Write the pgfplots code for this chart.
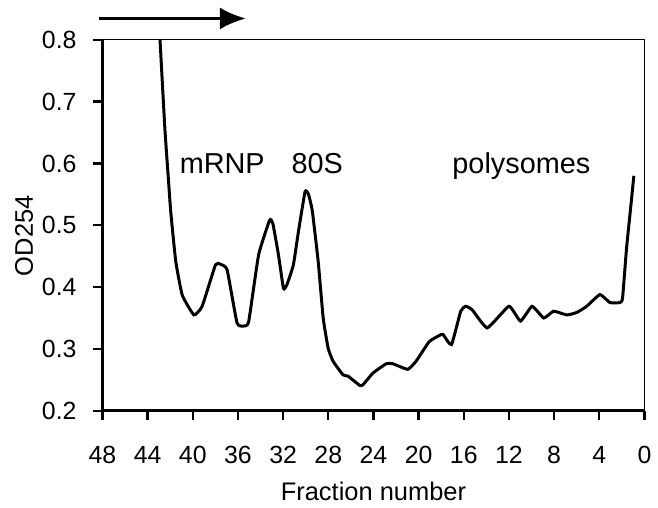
\documentclass[border=0pt]{standalone}
\usepackage{fontspec}
\setmainfont{Liberation Sans}
\usepackage{pgfplots}
\pgfplotsset{compat=1.18}
\usetikzlibrary{arrows.meta}

% OD254 trace
\pgfplotstableread{
x y
42.90 0.800
42.47 0.656
42.16 0.575
41.95 0.522
41.51 0.442
40.93 0.387
39.90 0.355
39.17 0.369
37.99 0.436
37.55 0.437
36.96 0.428
36.08 0.342
35.49 0.337
35.05 0.344
34.17 0.452
33.20 0.508
32.91 0.503
32.41 0.452
31.97 0.398
31.68 0.403
31.09 0.436
30.65 0.489
30.06 0.554
29.77 0.551
29.42 0.524
28.89 0.441
28.45 0.350
28.01 0.301
27.57 0.280
26.69 0.258
26.25 0.256
25.22 0.241
24.93 0.242
24.04 0.261
22.87 0.276
22.28 0.276
20.96 0.267
20.23 0.280
19.05 0.312
18.03 0.323
17.82 0.323
17.09 0.307
16.27 0.361
15.83 0.369
15.24 0.363
13.92 0.334
12.00 0.369
10.98 0.345
9.95 0.369
8.92 0.350
8.04 0.361
6.87 0.355
5.99 0.359
5.11 0.369
3.94 0.388
3.06 0.375
2.18 0.375
1.94 0.382
1.59 0.462
1.23 0.527
0.94 0.580
}\trace

\begin{document}
\begin{tikzpicture}
\begin{axis}[
    scale only axis,
    width=272.5pt, height=186.5pt,
    x dir=reverse,
    xmin=0, xmax=48,
    ymin=0.2, ymax=0.8,
    xtick={0,4,...,48},
    ytick={0.2,0.3,...,0.8},
    y tick label style={/pgf/number format/fixed, /pgf/number format/fixed zerofill,
        /pgf/number format/precision=1, xshift=-5pt},
    /pgf/number format/assume math mode=true,
    tick align=outside,
    tick pos=left,
    major tick length=4.5pt,
    every tick/.style={black, line width=1.2pt},
    axis line style={line width=0.7pt},
    tick label style={font=\fontsize{12.5}{15}\selectfont},
    x tick label style={yshift=-10pt},
    label style={font=\fontsize{12.8}{15}\selectfont},
    xlabel={Fraction number},
    ylabel={OD254},
    xlabel style={at={([yshift=-45pt]axis cs:24,0.2)}, anchor=base},
    ylabel style={at={([xshift=-35pt]axis cs:48,0.483)}, anchor=base},
    clip=false,
]
\addplot[black, line width=1.5pt, smooth, tension=0.25] table[x=x, y=y] {\trace};
\draw[line width=1.5pt] (axis cs:48,0.8) -- (axis cs:48,0.2) -- (axis cs:0,0.2);
\begin{scope}[every node/.style={font=\fontsize{14.5}{18}\selectfont, anchor=base}]
\node at (axis cs:37.39,0.583) {mRNP};
\node at (axis cs:28.98,0.583) {80S};
\node at (axis cs:10.9,0.583) {polysomes};
\end{scope}
\draw[line width=1.5pt, -{Latex[length=13pt,width=11pt]}] (axis cs:48.26,0.8345) -- (axis cs:35.3,0.8345);
\path (axis cs:48,0.2) ++(-51.5pt,-48.5pt) rectangle ++(329pt,255pt);
\end{axis}
\end{tikzpicture}
\end{document}
